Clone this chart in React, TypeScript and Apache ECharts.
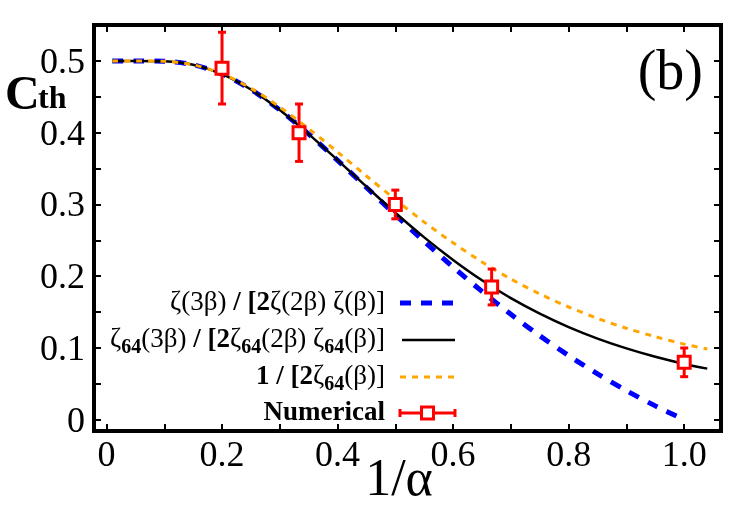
import React, { useEffect, useRef } from 'react';
import * as echarts from 'echarts';

// Sample abscissae (1/alpha) for the theoretical curves
const thetaX = [0.01, 0.05, 0.1, 0.15, 0.2, 0.25, 0.3, 0.35, 0.4, 0.45, 0.5, 0.55, 0.6, 0.65, 0.7, 0.75, 0.8, 0.85, 0.9, 0.95, 1.0, 1.04];
// zeta(3b) / [2 zeta(2b) zeta(b)]  (ends at 1/alpha = 1)
const zetaRatio = [0.5, 0.5, 0.4995, 0.4947, 0.4817, 0.4602, 0.4316, 0.3981, 0.3615, 0.3237, 0.2857, 0.2485, 0.2128, 0.1788, 0.1469, 0.117, 0.0894, 0.0639, 0.0405, 0.0193, 0];
// zeta64(3b) / [2 zeta64(2b) zeta64(b)]
const zeta64Ratio = [0.5, 0.5, 0.4995, 0.4947, 0.4817, 0.4602, 0.4316, 0.3981, 0.3619, 0.3248, 0.2884, 0.2541, 0.2227, 0.1943, 0.1694, 0.1478, 0.1291, 0.1131, 0.0994, 0.0877, 0.0778, 0.0712];
// 1 / [2 zeta64(b)]
const zeta64Inverse = [0.5, 0.5, 0.4995, 0.4947, 0.4822, 0.462, 0.4358, 0.4056, 0.3731, 0.3397, 0.3069, 0.2754, 0.2465, 0.2198, 0.1961, 0.1753, 0.1571, 0.1412, 0.1275, 0.1157, 0.1054, 0.0987];

// Numerical results with error bars
const numX = [0.2, 0.3333, 0.5, 0.6667, 1.0];
const numY = [0.49, 0.4, 0.3, 0.185, 0.08];
const numErr = [0.05, 0.04, 0.02, 0.025, 0.02];

// Axis ranges
const X_MIN = -0.0216;
const X_MAX = 1.0637;
const Y_MIN = -0.0157;
const Y_MAX = 0.5501;

const SERIF = 'Liberation Serif';
const RED = '#ff0000';
const BLUE = '#0000ff';
const ORANGE = '#ffa500';

const pairs = (xs: number[], ys: number[]) => ys.map((y, i) => [xs[i], y]);

// label only the multiples of 2*step inside [lo, hi]
const tickFormatter = (step: number, lo: number, hi: number) => (v: number) => {
  const k = Math.round(v / step);
  if (Math.abs(v / step - k) > 1e-6) return '';
  if (k % 2 !== 0) return '';
  const val = k * step;
  if (val < lo - 1e-9 || val > hi + 1e-9) return '';
  return k === 0 ? '0' : val.toFixed(1);
};

export default function App() {
  const ref = useRef<HTMLDivElement>(null);

  useEffect(() => {
    if (!ref.current) return;
    const chart = echarts.init(ref.current, null, { renderer: 'svg' });

    const frame = { show: true, onZero: false, lineStyle: { color: '#000', width: 4, cap: 'square' } };
    const tick = { show: true, inside: true, length: 7, lineStyle: { color: '#000', width: 2 } };
    const label = { color: '#000', fontFamily: SERIF, fontSize: 36 };

    const xCommon = {
      type: 'value', min: X_MIN, max: X_MAX, minInterval: 0.1, maxInterval: 0.1,
      splitLine: { show: false }, axisLine: frame, axisTick: tick,
    };
    const yCommon = {
      type: 'value', min: Y_MIN, max: Y_MAX, minInterval: 0.05, maxInterval: 0.05,
      splitLine: { show: false }, axisLine: frame, axisTick: tick,
    };

    const sub = { fontFamily: SERIF, fontSize: 20, fontWeight: 'bold', lineHeight: 12, verticalAlign: 'bottom', fill: '#000' };
    const norm = { fontFamily: SERIF, fontSize: 27, lineHeight: 32, verticalAlign: 'top', fill: '#000' };
    const bold = { ...norm, fontWeight: 'bold' };
    const rich = { n: norm, b: bold, s: sub };

    const rowY = [303, 340, 377, 413];
    const textRight = 385;
    const mx1 = 400;
    const mx2 = 455;

    const legendText = (text: string, y: number) => ({
      type: 'text', x: textRight, y, z: 100,
      style: { text, align: 'right', verticalAlign: 'middle', rich, fill: '#000' },
    });

    const lineSeries = (name: string, ys: number[], lineStyle: any, z: number) => ({
      name, type: 'line', data: pairs(thetaX, ys), smooth: 0.3,
      showSymbol: false, symbol: 'none', lineStyle, z,
    });

    const option = {
      animation: false,
      textStyle: { fontFamily: SERIF },
      grid: { left: 94, right: 29, top: 25, bottom: 94, containLabel: false, outerBoundsMode: 'none' },
      xAxis: [
        { ...xCommon, position: 'bottom',
          axisLabel: { ...label, margin: 5, showMinLabel: false, showMaxLabel: false, formatter: tickFormatter(0.1, 0, 1) } },
        { ...xCommon, position: 'top', axisLabel: { show: false } },
      ],
      yAxis: [
        { ...yCommon, position: 'left',
          axisLabel: { ...label, margin: 9, showMinLabel: false, showMaxLabel: false, formatter: tickFormatter(0.05, 0, 0.5) } },
        { ...yCommon, position: 'right', axisLabel: { show: false } },
      ],
      series: [
        lineSeries('ζ(3β) / [2ζ(2β) ζ(β)]', zetaRatio, { color: BLUE, width: 5, type: [11, 10] }, 2),
        lineSeries('ζ64(3β) / [2ζ64(2β) ζ64(β)]', zeta64Ratio, { color: '#000', width: 2.5 }, 3),
        lineSeries('1 / [2ζ64(β)]', zeta64Inverse, { color: ORANGE, width: 3, type: [6, 6] }, 4),
        {
          name: 'Numerical', type: 'custom', z: 5,
          data: numX.map((x, i) => [x, numY[i], numY[i] - numErr[i], numY[i] + numErr[i]]),
          encode: { x: 0, y: 1 },
          renderItem: (_params: any, api: any) => {
            const c = api.coord([api.value(0), api.value(1)]);
            const lo = api.coord([api.value(0), api.value(2)]);
            const hi = api.coord([api.value(0), api.value(3)]);
            const st = { stroke: RED, lineWidth: 3 };
            return {
              type: 'group',
              children: [
                { type: 'line', shape: { x1: c[0], y1: hi[1], x2: c[0], y2: lo[1] }, style: st },
                { type: 'line', shape: { x1: c[0] - 4, y1: hi[1], x2: c[0] + 4, y2: hi[1] }, style: st },
                { type: 'line', shape: { x1: c[0] - 4, y1: lo[1], x2: c[0] + 4, y2: lo[1] }, style: st },
                { type: 'rect', shape: { x: c[0] - 6, y: c[1] - 6, width: 12, height: 12 }, style: { fill: '#fff', stroke: RED, lineWidth: 3 } },
              ],
            };
          },
        },
      ],
      graphic: [
        // axis titles
        { type: 'text', x: 5, y: 92, style: { text: 'C', font: `bold 48px ${SERIF}`, fill: '#000', verticalAlign: 'middle' } },
        { type: 'text', x: 38, y: 97, style: { text: 'th', font: `bold 32px ${SERIF}`, fill: '#000', verticalAlign: 'middle' } },
        { type: 'text', x: 399, y: 477, style: { text: '1/α', font: `52px ${SERIF}`, fill: '#000', align: 'center', verticalAlign: 'middle' } },
        // panel tag
        { type: 'text', x: 703, y: 70, z: 100, style: { text: '(b)', font: `56px ${SERIF}`, fill: '#000', align: 'right', verticalAlign: 'middle' } },
        // legend
        legendText('{n|ζ(3β) }{b|/ [2}{n|ζ(2β) ζ(β)]}', rowY[0]),
        legendText('{n|ζ}{s|64}{n|(3β) }{b|/ [2}{n|ζ}{s|64}{n|(2β) ζ}{s|64}{n|(β)]}', rowY[1]),
        legendText('{b|1 / [2}{n|ζ}{s|64}{n|(β)]}', rowY[2]),
        legendText('{b|Numerical}', rowY[3]),
        { type: 'line', z: 100, shape: { x1: mx1, y1: rowY[0], x2: mx2, y2: rowY[0] }, style: { stroke: BLUE, lineWidth: 5, lineDash: [11, 10] } },
        { type: 'line', z: 100, shape: { x1: mx1 + 2, y1: rowY[1], x2: mx2, y2: rowY[1] }, style: { stroke: '#000', lineWidth: 2.5 } },
        { type: 'line', z: 100, shape: { x1: mx1, y1: rowY[2], x2: mx2, y2: rowY[2] }, style: { stroke: ORANGE, lineWidth: 3, lineDash: [6, 6] } },
        { type: 'line', z: 100, shape: { x1: mx1, y1: rowY[3], x2: mx2, y2: rowY[3] }, style: { stroke: RED, lineWidth: 3 } },
        { type: 'line', z: 100, shape: { x1: mx1, y1: rowY[3] - 4, x2: mx1, y2: rowY[3] + 4 }, style: { stroke: RED, lineWidth: 3 } },
        { type: 'line', z: 100, shape: { x1: mx2, y1: rowY[3] - 4, x2: mx2, y2: rowY[3] + 4 }, style: { stroke: RED, lineWidth: 3 } },
        { type: 'rect', z: 101, shape: { x: (mx1 + mx2) / 2 - 6, y: rowY[3] - 6, width: 12, height: 12 }, style: { fill: '#fff', stroke: RED, lineWidth: 3 } },
      ],
    };

    chart.setOption(option as any);
    return () => chart.dispose();
  }, []);

  return <div ref={ref} style={{ position: 'fixed', left: 0, top: 0, width: 750, height: 525 }} />;
}
